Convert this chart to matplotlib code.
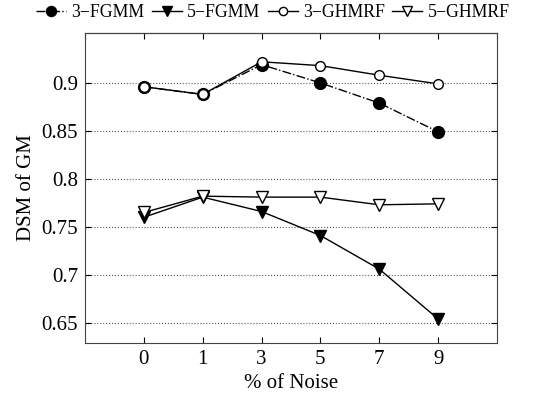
import matplotlib.pyplot as plt
import numpy as np

plt.rcParams['font.family'] = ['Liberation Serif', 'DejaVu Serif']

noise = ['0', '1', '3', '5', '7', '9']
fgmm3 = [0.896, 0.888, 0.919, 0.900, 0.879, 0.849]
fgmm5 = [0.760, 0.781, 0.766, 0.741, 0.706, 0.654]
ghmrf3 = [0.896, 0.888, 0.922, 0.918, 0.908, 0.899]
ghmrf5 = [0.765, 0.782, 0.781, 0.781, 0.773, 0.774]

x = np.arange(1, len(noise) + 1)

fig = plt.figure(figsize=(5.41, 4.03), dpi=100)
ax = fig.add_axes([85/541, 1 - 343/403, 412/541, 310/403])

ax.plot(x, fgmm3, color='black', ls='-.', lw=1, marker='o', ms=8.5, label='3\u2212FGMM')
ax.plot(x, fgmm5, color='black', ls='-', lw=1, marker='v', ms=9, label='5\u2212FGMM')
ax.plot(x, ghmrf3, color='black', ls='-', lw=1, marker='o', ms=7, mfc='white', label='3\u2212GHMRF')
ax.plot(x, ghmrf5, color='black', ls='-', lw=1, marker='v', ms=8, mfc='white', label='5\u2212GHMRF')

ax.set_xlim(0, 7)
ax.set_ylim(0.629, 0.952)
ax.set_xticks(x)
ax.set_xticklabels(noise)
ax.set_yticks([0.65, 0.7, 0.75, 0.8, 0.85, 0.9])
ax.set_yticklabels(['0.65', '0.7', '0.75', '0.8', '0.85', '0.9'])
ax.yaxis.grid(True, ls=':', color='#555555', lw=0.8)
ax.tick_params(direction='in', right=True, labelsize=15, length=4, colors='black', pad=5)
for s in ax.spines.values():
    s.set_color('#444444')

top = ax.secondary_xaxis('top')
top.set_xticks(np.arange(0, 8))
top.tick_params(direction='in', labeltop=False, length=4)

ax.set_xlabel('% of Noise', fontsize=15)
ax.set_ylabel('DSM of GM', fontsize=15)

fig.legend(loc='upper left', bbox_to_anchor=(28/541, 1.01), ncol=4, frameon=False,
           fontsize=12.8, handlelength=1.7, handletextpad=0.3, columnspacing=0.4,
           borderaxespad=0.05, markerscale=0.85)

fig.savefig('out.png', dpi=100)
